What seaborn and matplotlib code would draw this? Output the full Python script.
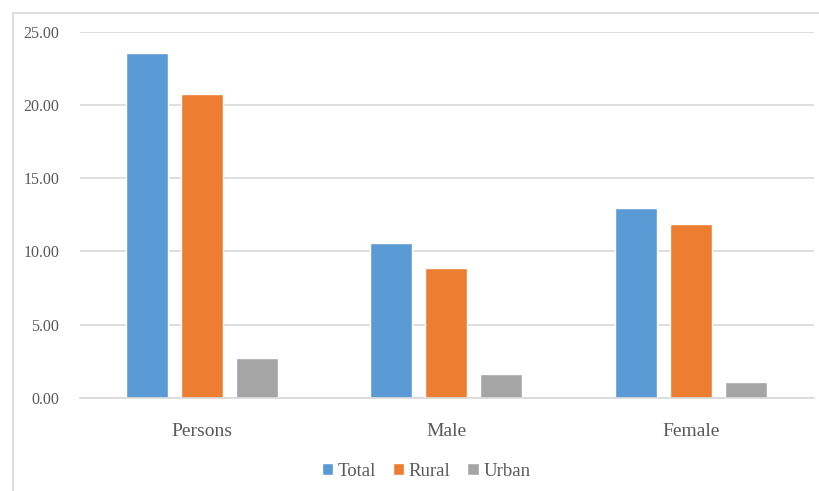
import matplotlib
matplotlib.use("Agg")
import matplotlib.pyplot as plt
import seaborn as sns
import pandas as pd
from matplotlib.lines import Line2D

categories = ["Persons", "Male", "Female"]
series = ["Total", "Rural", "Urban"]
total = [23.55, 10.56, 12.95]
rural = [20.72, 8.86, 11.90]
urban = [2.76, 1.64, 1.07]
y_ticks = [0, 5, 10, 15, 20, 25]

df = pd.DataFrame({
    "category": categories * 3,
    "series": [s for s in series for _ in categories],
    "value": total + rural + urban,
})

sns.set_theme(style="white")
plt.rcParams["font.family"] = ["Liberation Serif", "DejaVu Serif"]

palette = {"Total": "#5B9BD5", "Rural": "#ED7D31", "Urban": "#A5A5A5"}

fig = plt.figure(figsize=(8.19, 4.91), dpi=100)
ax = fig.add_axes([80 / 819, 1 - 398 / 491, 734 / 819, (398 - 31.7) / 491])

sns.barplot(data=df, x="category", y="value", hue="series", order=categories,
            hue_order=series, palette=palette, width=0.676, gap=0.236,
            saturation=1, ax=ax, legend=True)

ax.set_xlim(-0.5, 2.505)
ax.set_ylim(0, 25)
ax.set_yticks(y_ticks)
ax.set_yticklabels([f"{v:.2f}" for v in y_ticks])
ax.set_xlabel("")
ax.set_ylabel("")
ax.yaxis.grid(True, color="#D9D9D9", linewidth=1.2)
ax.set_axisbelow(True)
for side in ["left", "right", "top"]:
    ax.spines[side].set_visible(False)
ax.spines["bottom"].set_color("#D9D9D9")
ax.spines["bottom"].set_linewidth(1.2)
ax.tick_params(axis="y", length=0, pad=15, labelsize=11.5, labelcolor="#595959")
ax.tick_params(axis="x", length=0, pad=18, labelsize=14, labelcolor="#595959")

handles, labels = ax.get_legend_handles_labels()
ax.legend(handles, labels, loc="center", bbox_to_anchor=(426 / 819, 1 - 471 / 491),
          bbox_transform=fig.transFigure, ncol=3, frameon=False, fontsize=13.5,
          handlelength=0.6, handleheight=0.6, handletextpad=0.25, columnspacing=0.9,
          labelcolor="#595959")

# chart frame: left and top edges
frame_kw = dict(transform=fig.transFigure, color="#D9D9D9", linewidth=1.2)
fig.add_artist(Line2D([12.5 / 819, 12.5 / 819], [0, 1 - 13 / 491], **frame_kw))
fig.add_artist(Line2D([12.5 / 819, 1], [1 - 13 / 491, 1 - 13 / 491], **frame_kw))

fig.savefig("out.png", dpi=100)
